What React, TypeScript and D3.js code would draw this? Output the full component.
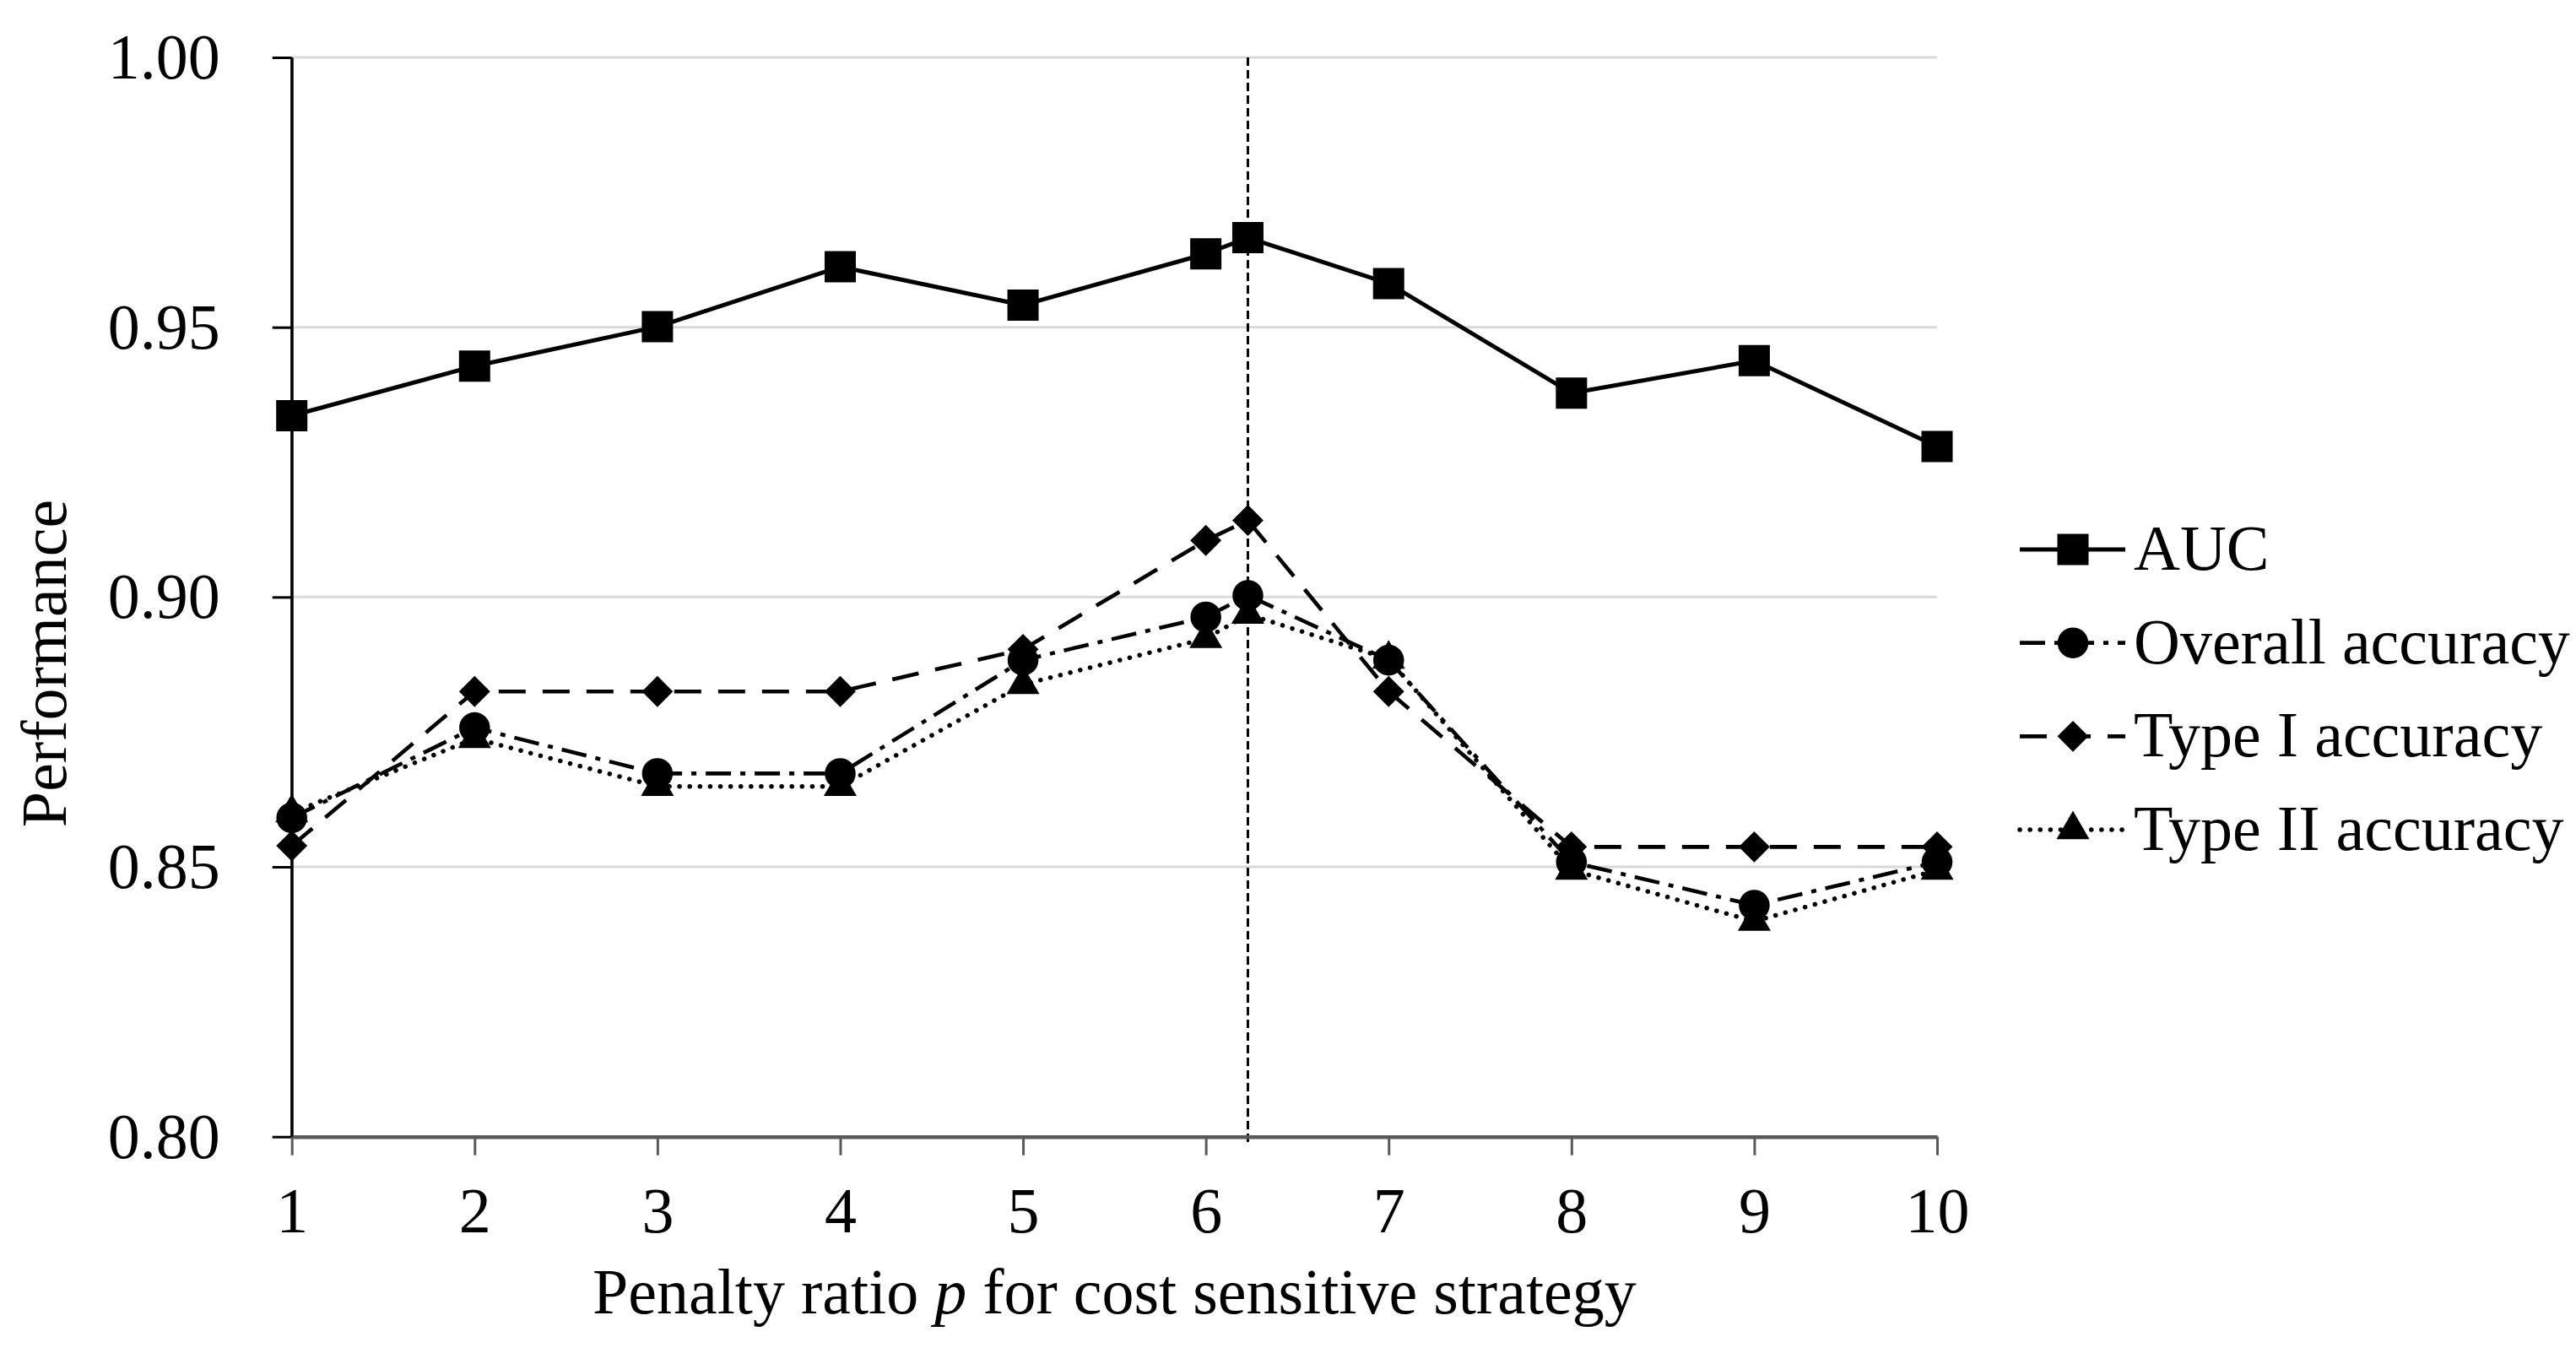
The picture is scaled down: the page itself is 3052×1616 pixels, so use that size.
import React, { useEffect, useRef } from 'react';
import * as d3 from 'd3';

// penalty ratios; 6.23 is the optimum marked by the vertical line
const pValues = [1, 2, 3, 4, 5, 6, 6.23, 7, 8, 9, 10];
const optimalP = 6.23;

const auc = [0.9336, 0.9428, 0.9501, 0.9612, 0.9541, 0.9636, 0.9666, 0.9581, 0.9378, 0.9438, 0.9279];
const overallAcc = [0.8591, 0.8758, 0.8673, 0.8673, 0.8883, 0.8963, 0.9003, 0.8883, 0.8509, 0.8429, 0.8509];
const typeIAcc = [0.8539, 0.8825, 0.8825, 0.8825, 0.8903, 0.9105, 0.9142, 0.8825, 0.8537, 0.8537, 0.8537];
const typeIIAcc = [0.86, 0.8738, 0.8649, 0.8649, 0.8838, 0.8923, 0.8968, 0.8885, 0.8494, 0.8399, 0.8494];

const xTicks = [1, 2, 3, 4, 5, 6, 7, 8, 9, 10];
const yTicks = [0.8, 0.85, 0.9, 0.95, 1.0];

const seriesNames = ['AUC', 'Overall accuracy', 'Type I accuracy', 'Type II accuracy'];

const FONT = "'Liberation Serif', 'Times New Roman', serif";

export default function App() {
  const svgRef = useRef<SVGSVGElement>(null);

  useEffect(() => {
    document.body.style.margin = '0';
    if (!svgRef.current) return;
    const svg = d3.select(svgRef.current);
    svg.selectAll('*').remove();

    const x = d3.scaleLinear().domain([1, 10]).range([345.7, 2295]);
    const y = d3.scaleLinear().domain([0.8, 1.0]).range([1346.7, 68]);

    // gridlines
    svg.append('g')
      .selectAll('line')
      .data(yTicks)
      .enter()
      .append('line')
      .attr('x1', x(1))
      .attr('x2', x(10))
      .attr('y1', d => y(d))
      .attr('y2', d => y(d))
      .attr('stroke', '#d9d9d9')
      .attr('stroke-width', 3);

    // optimum marker line
    svg.append('line')
      .attr('x1', x(optimalP))
      .attr('x2', x(optimalP))
      .attr('y1', y(1.0))
      .attr('y2', y(0.8) + 11)
      .attr('stroke', '#000')
      .attr('stroke-width', 3)
      .attr('stroke-dasharray', '10,5');

    // y axis
    const yAxis = svg.append('g')
      .attr('transform', `translate(${x(1)},0)`)
      .call(
        d3.axisLeft(y)
          .tickValues(yTicks)
          .tickFormat(d3.format('.2f'))
          .tickSize(23)
          .tickSizeOuter(0)
          .tickPadding(62)
      );
    yAxis.select('.domain').attr('stroke', '#000').attr('stroke-width', 3);
    yAxis.selectAll('.tick line').attr('stroke', '#000').attr('stroke-width', 3);
    yAxis.selectAll('text')
      .attr('font-family', FONT)
      .attr('font-size', 76)
      .attr('fill', '#000');

    // x axis
    const xAxis = svg.append('g')
      .attr('transform', `translate(0,${y(0.8)})`)
      .call(
        d3.axisBottom(x)
          .tickValues(xTicks)
          .tickFormat(d3.format('d'))
          .tickSize(22)
          .tickSizeOuter(0)
          .tickPadding(37)
      );
    xAxis.select('.domain').attr('stroke', '#595959').attr('stroke-width', 4.5);
    xAxis.selectAll('.tick line').attr('stroke', '#595959').attr('stroke-width', 3);
    xAxis.selectAll('text')
      .attr('font-family', FONT)
      .attr('font-size', 76)
      .attr('fill', '#000');

    // y axis line repainted over the x axis
    svg.append('line')
      .attr('x1', x(1)).attr('x2', x(1))
      .attr('y1', y(1.0)).attr('y2', y(0.8))
      .attr('stroke', '#000').attr('stroke-width', 3);

    // axis titles
    svg.append('text')
      .attr('transform', `translate(78,786) rotate(-90)`)
      .attr('text-anchor', 'middle')
      .attr('font-family', FONT)
      .attr('font-size', 76)
      .text('Performance');

    const title = svg.append('text')
      .attr('x', (x(1) + x(10)) / 2)
      .attr('y', 1556)
      .attr('text-anchor', 'middle')
      .attr('font-family', FONT)
      .attr('font-size', 76);
    title.append('tspan').text('Penalty ratio ');
    title.append('tspan').attr('font-style', 'italic').text('p');
    title.append('tspan').text(' for cost sensitive strategy');

    const styles = [
      { values: auc, dash: null, width: 5, cap: 'butt', symbol: d3.symbolSquare, size: 1369, rotate: 0 },
      { values: overallAcc, dash: '30,11,6,11', width: 4.6, cap: 'butt', symbol: d3.symbolCircle, size: 1050, rotate: 0 },
      { values: typeIAcc, dash: '32,20', width: 4.6, cap: 'butt', symbol: d3.symbolSquare, size: 680, rotate: 45 },
      { values: typeIIAcc, dash: '0.1,12', width: 5.5, cap: 'round', symbol: d3.symbolTriangle, size: 660, rotate: 0 },
    ];

    const line = d3.line<number>()
      .x((_, i) => x(pValues[i]))
      .y(d => y(d));

    styles.forEach(s => {
      svg.append('path')
        .datum(s.values)
        .attr('fill', 'none')
        .attr('stroke', '#000')
        .attr('stroke-width', s.width)
        .attr('stroke-linecap', s.cap)
        .attr('stroke-linejoin', 'round')
        .attr('stroke-dasharray', s.dash)
        .attr('d', line);
    });

    styles.forEach(s => {
      svg.append('g')
        .selectAll('path')
        .data(s.values)
        .enter()
        .append('path')
        .attr('d', d3.symbol(s.symbol, s.size)())
        .attr('transform', (d, i) => `translate(${x(pValues[i])},${y(d)}) rotate(${s.rotate})`)
        .attr('fill', '#000');
    });

    // legend
    const rowY = d3.scalePoint<string>().domain(seriesNames).range([651, 983]);
    const legend = svg.append('g');
    styles.forEach((s, i) => {
      const name = seriesNames[i];
      const cy = rowY(name)!;
      legend.append('line')
        .attr('x1', 2393).attr('x2', 2518)
        .attr('y1', cy).attr('y2', cy)
        .attr('stroke', '#000')
        .attr('stroke-width', s.width)
        .attr('stroke-linecap', s.cap)
        .attr('stroke-dasharray', s.dash);
      legend.append('path')
        .attr('d', d3.symbol(s.symbol, s.size)())
        .attr('transform', `translate(2456,${cy}) rotate(${s.rotate})`)
        .attr('fill', '#000');
      legend.append('text')
        .attr('x', 2528)
        .attr('y', cy + 24)
        .attr('font-family', FONT)
        .attr('font-size', 76)
        .text(name);
    });
  }, []);

  return (
    <svg
      ref={svgRef}
      width={3052}
      height={1616}
      style={{ display: 'block', background: '#fff' }}
    />
  );
}
